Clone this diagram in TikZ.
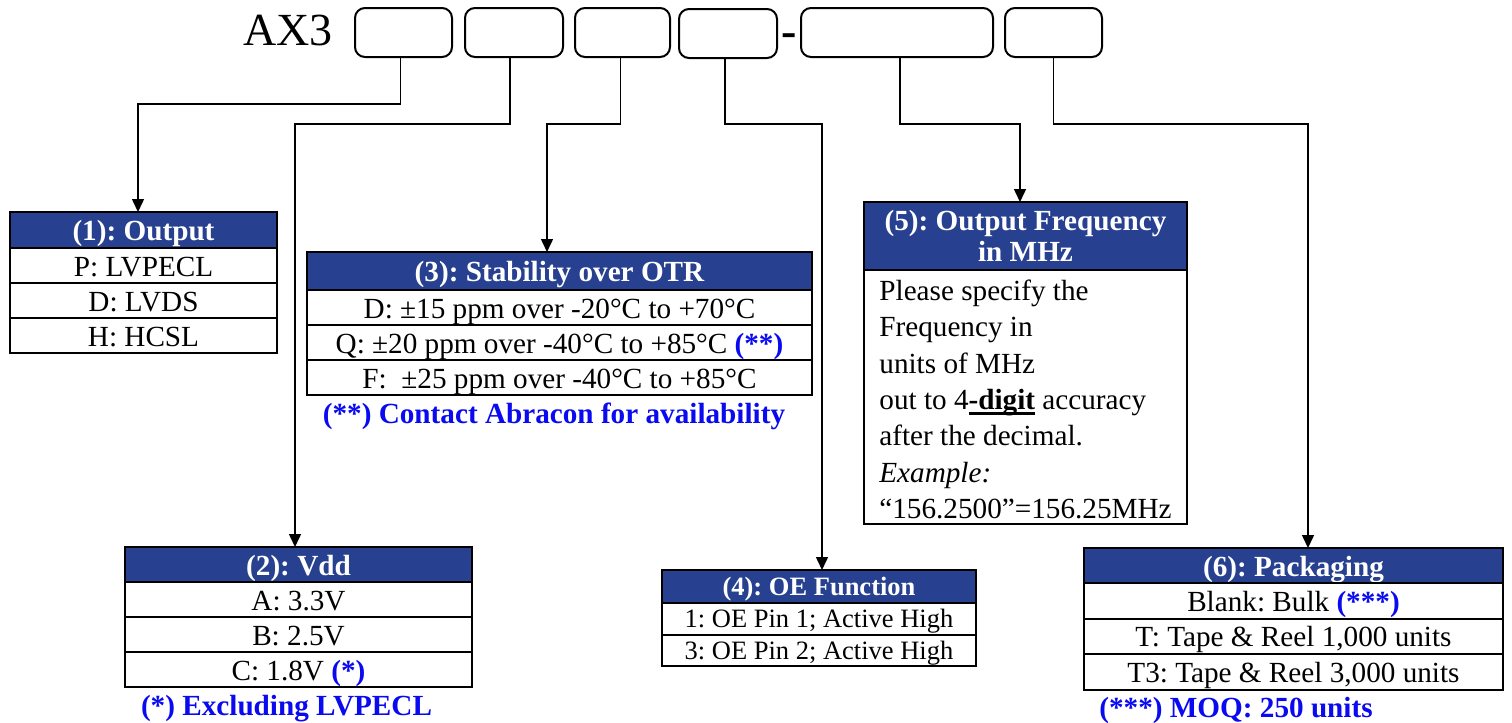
\documentclass[tikz,border=0pt]{standalone}
\usepackage{fontspec}
\setmainfont{Liberation Serif}
\usetikzlibrary{arrows.meta,calc}
\frenchspacing
\definecolor{hdrblue}{RGB}{39,64,143}
\definecolor{fnblue}{RGB}{10,10,240}
\newcommand{\fnt}{\fontsize{14.6}{17}\selectfont}
\newcommand{\fntsm}{\fontsize{13.25}{16}\selectfont}
\newcommand{\myul}[1]{\leavevmode\setbox0\hbox{#1}\rlap{\rule[-2.8pt]{\wd0}{1.3pt}}\box0\relax}
\begin{document}
\begin{tikzpicture}[x=0.5pt,y=-0.5pt,
  cell/.style={draw=black, line width=1pt, inner sep=0pt, outer sep=0pt, text height=13.9pt, text depth=3.4pt, font=\fnt, anchor=north},
  hdr/.style={cell, fill=hdrblue, text=white, font=\fnt\bfseries},
  cellsm/.style={cell, text height=12.3pt, text depth=3.3pt, font=\fntsm},
  hdrsm/.style={cellsm, fill=hdrblue, text=white, font=\fntsm\bfseries},
  pbox/.style={draw=black, line width=1pt, rounded corners=5pt, inner sep=0pt, outer sep=0pt, minimum height=24.5pt},
  conn/.style={draw=black, line width=0.75pt},
  arr/.style={conn, -{Triangle[length=6.5pt,width=6pt]}},
  note/.style={font=\fnt\bfseries, text=fnblue, inner sep=0pt, anchor=base},
  body/.style={font=\fnt, inner sep=0pt, anchor=base west}
]
\useasboundingbox (0,0) rectangle (1512,723);

% title and part-number boxes
\node[font=\fontsize{23}{26}\selectfont, inner sep=0pt, anchor=base west] (ax3) at (243,45) {AX3};
\node[pbox, minimum width=48.5pt] (b1) at (403.5,32.5) {};
\node[pbox, minimum width=49pt] (b2) at (514,32.5) {};
\node[pbox, minimum width=47.5pt] (b3) at (622.5,32.5) {};
\node[pbox, minimum width=49pt] (b4) at (728,33.5) {};
\node[font=\fontsize{23}{26}\selectfont\bfseries, inner sep=0pt, anchor=base] (dash) at (789.5,46) {-};
\node[pbox, minimum width=96pt] (b5) at (897,32.5) {};
\node[pbox, minimum width=48.5pt] (b6) at (1053.5,32.5) {};

% (1) Output
\begin{scope}[every node/.append style={minimum width=133.5pt}]
\node[hdr, minimum height=18pt] (t1h) at (143.5,212) {(1): Output};
\node[cell, minimum height=17.5pt] (t1a) at (t1h.south) {P: LVPECL};
\node[cell, minimum height=17.5pt] (t1b) at (t1a.south) {D: LVDS};
\node[cell, minimum height=17.5pt] (t1c) at (t1b.south) {H: HCSL};
\end{scope}

% (3) Stability
\begin{scope}[every node/.append style={minimum width=252.5pt}]
\node[hdr, minimum height=19pt] (t3h) at (559.5,252) {(3): Stability over OTR};
\node[cell, minimum height=17.5pt] (t3a) at (t3h.south) {D: ±15 ppm over -20°C to +70°C};
\node[cell, minimum height=17.5pt] (t3b) at (t3a.south) {Q: ±20 ppm over -40°C to +85°C {\color{fnblue}\bfseries(**)}};
\node[cell, minimum height=17.5pt] (t3c) at (t3b.south) {F:\ \ ±25 ppm over -40°C to +85°C};
\end{scope}
\node[note] (n3) at (554,423) {(**) Contact Abracon for availability};

% (5) Output frequency
\node[draw=black, line width=1pt, fill=hdrblue, text=white, font=\fontsize{14.6}{15.5}\selectfont\bfseries, align=center, inner sep=0pt, outer sep=0pt, minimum width=161.5pt, minimum height=34pt, anchor=north] (t5h) at (1025.5,202) {(5): Output Frequency\\in MHz};
\node[draw=black, line width=1pt, inner sep=0pt, outer sep=0pt, minimum width=161.5pt, minimum height=127pt, anchor=north] (t5b) at (t5h.south) {};
\node[body] (t5l1) at (879,300) {Please specify the};
\node[body] (t5l2) at (879,336.5) {Frequency in};
\node[body] (t5l3) at (879,373) {units of MHz};
\node[body] (t5l4) at (879,409) {out to 4\myul{\textbf{-digit}} accuracy};
\node[body] (t5l5) at (879,445.5) {after the decimal.};
\node[body] (t5l6) at (879,482) {\textit{Example:}};
\node[body] (t5l7) at (879,518) {“156.2500”=156.25MHz};

% (2) Vdd
\begin{scope}[every node/.append style={minimum width=173.5pt}]
\node[hdr, minimum height=17.5pt] (t2h) at (298.5,547) {(2): Vdd};
\node[cell, minimum height=17.5pt] (t2a) at (t2h.south) {A: 3.3V};
\node[cell, minimum height=17.5pt] (t2b) at (t2a.south) {B: 2.5V};
\node[cell, minimum height=17.5pt] (t2c) at (t2b.south) {C: 1.8V {\color{fnblue}\bfseries(*)}};
\end{scope}
\node[note] (n2) at (286.5,715) {(*) Excluding LVPECL};

% (4) OE function
\begin{scope}[every node/.append style={minimum width=157pt}]
\node[hdrsm, minimum height=16.5pt] (t4h) at (819,570) {(4): OE Function};
\node[cellsm, minimum height=15.75pt] (t4a) at (t4h.south) {1: OE Pin 1; Active High};
\node[cellsm, minimum height=15.75pt] (t4b) at (t4a.south) {3: OE Pin 2; Active High};
\end{scope}

% (6) Packaging
\begin{scope}[every node/.append style={minimum width=209.5pt}]
\node[hdr, minimum height=17.5pt] (t6h) at (1293.5,548) {(6): Packaging};
\node[cell, minimum height=17.75pt] (t6a) at (t6h.south) {Blank: Bulk {\color{fnblue}\bfseries(***)}};
\node[cell, minimum height=17.75pt] (t6b) at (t6a.south) {T: Tape \& Reel 1,000 units};
\node[cell, minimum height=17.75pt] (t6c) at (t6b.south) {T3: Tape \& Reel 3,000 units};
\end{scope}
\node[note] (n6) at (1236,717) {(***) MOQ: 250 units};

% connectors
\coordinate (s1) at ($(b1.south)+(-3,0)$);
\coordinate (s2) at ($(b2.south)+(-4,0)$);
\coordinate (s3) at ($(b3.south)+(-2,0)$);
\coordinate (s4) at ($(b4.south)+(-3,0)$);
\coordinate (s5) at ($(b5.south)+(3,0)$);
\coordinate (s6) at ($(b6.south)+(0,0)$);
\coordinate (e1) at ($(t1h.north)+(-5.5,0)$);
\coordinate (e2) at ($(t2h.north)+(-3.5,0)$);
\coordinate (e3) at ($(t3h.north)+(-12.5,0)$);
\coordinate (e4) at ($(t4h.north)+(3,0)$);
\coordinate (e5) at ($(t5h.north)+(-5.5,0)$);
\coordinate (e6) at ($(t6h.north)+(14.5,0)$);
\draw[arr] (s1) |- (e1 |- 0,104) -- (e1);
\draw[arr] (s2) |- (e2 |- 0,124) -- (e2);
\draw[arr] (s3) |- (e3 |- 0,124) -- (e3);
\draw[arr] (s4) |- (e4 |- 0,124) -- (e4);
\draw[arr] (s5) |- (e5 |- 0,124) -- (e5);
\draw[arr] (s6) |- (e6 |- 0,124) -- (e6);
\end{tikzpicture}
\end{document}
